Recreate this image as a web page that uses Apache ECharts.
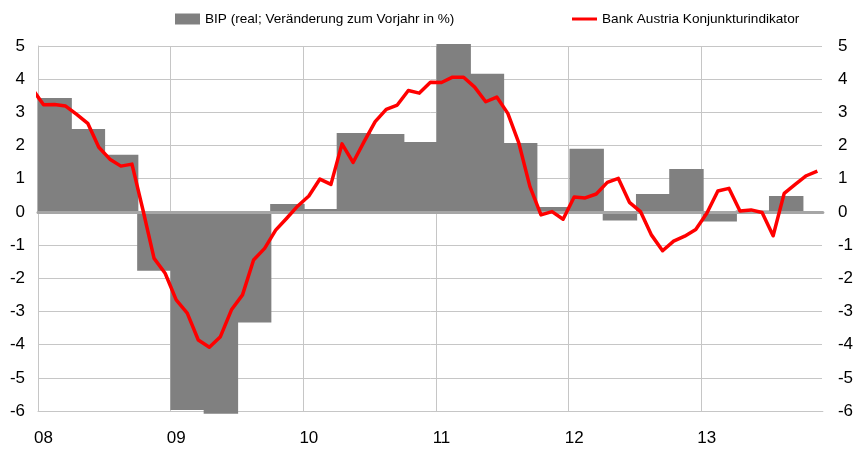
<!DOCTYPE html>
<html>
<head>
<meta charset="utf-8">
<script src="https://cdn.jsdelivr.net/npm/echarts@6/dist/echarts.min.js"></script>
<style>
  html, body { margin: 0; padding: 0; background: #fff; }
  #chart { width: 856px; height: 449px; }
</style>
</head>
<body>
<div id="chart"></div>
<script>
// monatlicher Konjunkturindikator, Dez 2007 bis Nov 2013 (Dez 07 liegt links ausserhalb)
const months = [];
for (let y = 2007; y <= 2013; y++) {
  for (let m = 1; m <= 12; m++) {
    if (y == 2007 && m < 12) continue;
    if (y == 2013 && m > 11) continue;
    months.push(y + '-' + (m < 10 ? '0' + m : m));
  }
}
const indikator = [3.7,
  3.23, 3.24, 3.19, 2.94, 2.67, 1.95, 1.59, 1.38, 1.44, 0.05, -1.4, -1.85,
  -2.65, -3.05, -3.86, -4.08, -3.76, -2.95, -2.5, -1.45, -1.1, -0.55, -0.19, 0.18,
  0.48, 0.99, 0.83, 2.05, 1.49, 2.12, 2.72, 3.09, 3.22, 3.66, 3.58, 3.91,
  3.9, 4.06, 4.06, 3.76, 3.32, 3.46, 2.97, 2.07, 0.76, -0.09, 0.01, -0.22,
  0.45, 0.42, 0.54, 0.89, 1.01, 0.29, 0.01, -0.7, -1.17, -0.88, -0.73, -0.53,
  -0.04, 0.63, 0.71, 0.03, 0.06, -0.02, -0.72, 0.56, 0.83, 1.09, 1.23];

// BIP quartalsweise
const quartale = ['08Q1', '08Q2', '08Q3', '08Q4', '09Q1', '09Q2', '09Q3', '09Q4',
  '10Q1', '10Q2', '10Q3', '10Q4', '11Q1', '11Q2', '11Q3', '11Q4',
  '12Q1', '12Q2', '12Q3', '12Q4', '13Q1', '13Q2', '13Q3', '13Q4'];
const bip = [3.43, 2.5, 1.72, -1.77, -5.97, -6.08, -3.33, 0.24,
  0.09, 2.38, 2.35, 2.11, 5.06, 4.16, 2.08, 0.15,
  1.9, -0.26, 0.54, 1.29, -0.29, 0.04, 0.48, null];

const yTicks = { min: -6, max: 5, interval: 1 };

const nameBip = 'BIP (real; Veränderung zum Vorjahr in %)';
const nameInd = 'Bank Austria Konjunkturindikator';

const font = 'Liberation Sans, Arial, sans-serif';
const gridColor = '#c6c6c6';

function isJanuar(idx, val) {
  return String(val).slice(5) == '01';
}

const chart = echarts.init(document.getElementById('chart'), null, { renderer: 'canvas' });

// ein Monat = 787/71 px, die Quartalsbalken liegen in einem zweiten Grid mit 24 Quartalen
const monthW = 787 / 71;

var option = {
  animation: false,
  backgroundColor: '#fff',
  textStyle: { fontFamily: font },
  legend: [{
    data: [nameBip],
    left: 170,
    top: 7,
    icon: 'rect',
    itemWidth: 25,
    itemHeight: 11,
    itemGap: 5,
    textStyle: { fontSize: 13.6, color: '#000', fontFamily: font }
  }, {
    data: [nameInd],
    left: 567,
    top: 7,
    icon: 'rect',
    itemWidth: 25,
    itemHeight: 3,
    textStyle: { fontSize: 13.6, color: '#000', fontFamily: font }
  }],
  grid: [
    { left: 38, right: 31, top: 46, bottom: 38 },
    { left: 38, width: monthW * 72, top: 46, bottom: 38 }
  ],
  xAxis: [{
    type: 'category',
    gridIndex: 0,
    data: months,
    min: 1,
    boundaryGap: true,
    position: 'bottom',
    axisLine: { show: true, onZero: false, lineStyle: { color: gridColor, width: 1 } },
    axisTick: { show: false, interval: isJanuar },
    axisLabel: {
      interval: isJanuar,
      margin: 19,
      fontSize: 17,
      color: '#000',
      fontFamily: font,
      formatter: function (v) { return v.slice(2, 4); }
    },
    splitLine: { show: true, interval: isJanuar, lineStyle: { color: gridColor, width: 1 } }
  }, {
    type: 'category',
    gridIndex: 1,
    data: quartale,
    show: false,
    boundaryGap: true
  }, {
    // Nulllinie ueber den Balken
    type: 'category',
    gridIndex: 0,
    data: months,
    min: 1,
    z: 3,
    axisLine: { show: true, onZero: true, lineStyle: { color: '#a6a6a6', width: 3 } },
    axisTick: { show: false },
    axisLabel: { show: false },
    splitLine: { show: false }
  }],
  yAxis: [{
    type: 'value',
    gridIndex: 0,
    position: 'left',
    min: yTicks.min,
    max: yTicks.max,
    interval: yTicks.interval,
    axisLine: { show: true, lineStyle: { color: gridColor, width: 1 } },
    axisTick: { show: false },
    axisLabel: { margin: 13, fontSize: 17, color: '#000', fontFamily: font },
    splitLine: { show: true, lineStyle: { color: gridColor, width: 1 } }
  }, {
    type: 'value',
    gridIndex: 0,
    position: 'right',
    min: yTicks.min,
    max: yTicks.max,
    interval: yTicks.interval,
    // weisse Achslinie deckt die letzte senkrechte Gitterlinie ab
    axisLine: { show: true, lineStyle: { color: '#fff', width: 3 } },
    axisTick: { show: false },
    axisLabel: { margin: 15, fontSize: 17, color: '#000', fontFamily: font },
    splitLine: { show: false }
  }, {
    type: 'value',
    gridIndex: 1,
    min: yTicks.min,
    max: yTicks.max,
    interval: yTicks.interval,
    show: false,
    splitLine: { show: false }
  }],
  series: [{
    name: nameBip,
    type: 'bar',
    xAxisIndex: 1,
    yAxisIndex: 2,
    data: bip,
    // etwas breiter als ein Quartal, damit keine Fugen zwischen den Balken bleiben
    barWidth: monthW * 3 + 1.2,
    barGap: '-100%',
    clip: false,
    z: 2,
    itemStyle: { color: '#808080' }
  }, {
    name: nameInd,
    type: 'line',
    xAxisIndex: 0,
    yAxisIndex: 0,
    data: indikator,
    symbol: 'none',
    clip: true,
    z: 4,
    lineStyle: { color: '#ff0000', width: 3.5, join: 'round' },
    itemStyle: { color: '#ff0000' }
  }]
};

chart.setOption(option);
</script>
</body>
</html>
